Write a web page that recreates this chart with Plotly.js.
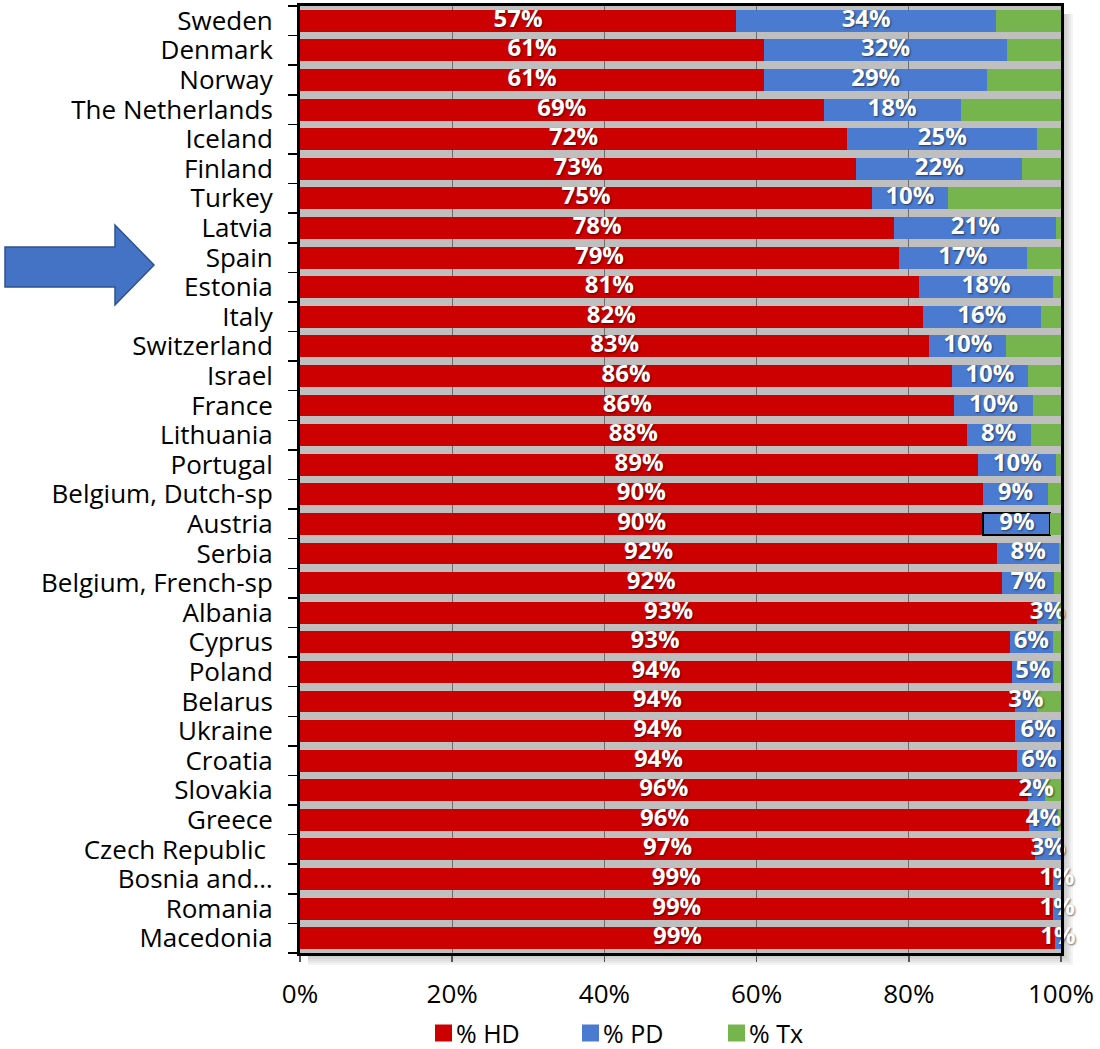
<!DOCTYPE html>
<html>
<head>
<meta charset="utf-8">
<script src="https://cdn.plot.ly/plotly-3.0.1.min.js"></script>
<style>html,body{margin:0;padding:0;background:#fff;}</style>
</head>
<body>
<div id="chart" style="width:1100px;height:1049px;"></div>
<script>
// Share of dialysis / transplant modality by country (100% stacked)
const countries = [
  'Sweden', 'Denmark', 'Norway', 'The Netherlands', 'Iceland', 'Finland', 'Turkey',
  'Latvia', 'Spain', 'Estonia', 'Italy', 'Switzerland', 'Israel', 'France',
  'Lithuania', 'Portugal', 'Belgium, Dutch-sp', 'Austria', 'Serbia',
  'Belgium, French-sp', 'Albania', 'Cyprus', 'Poland', 'Belarus', 'Ukraine',
  'Croatia', 'Slovakia', 'Greece', 'Czech Republic\u00a0', 'Bosnia and\u2026',
  'Romania', 'Macedonia'
];
const hd = [57.3, 61.0, 61.0, 68.8, 71.9, 73.1, 75.2, 78.1, 78.7, 81.3, 81.8, 82.7, 85.7, 86.0,
            87.6, 89.1, 89.7, 89.8, 91.6, 92.3, 93.0, 93.3, 93.6, 93.9, 94.0, 94.2, 95.6, 95.8,
            96.5, 98.9, 99.0, 99.2];
const pd = [34.2, 31.9, 29.3, 18.0, 25.0, 21.8, 9.9, 21.3, 16.8, 17.7, 15.6, 10.1, 9.9, 10.3,
            8.4, 10.3, 8.6, 8.8, 8.2, 6.8, 2.6, 5.6, 5.4, 3.0, 6.0, 5.8, 2.3, 3.8,
            3.4, 1.1, 1.0, 0.8];
const tx = [8.5, 7.1, 9.7, 13.2, 3.1, 5.1, 14.9, 0.6, 4.5, 1.0, 2.6, 7.2, 4.4, 3.7,
            4.0, 0.6, 1.7, 1.4, 0.2, 0.9, 0.4, 1.1, 1.0, 3.1, 0.0, 0.0, 2.1, 0.4,
            0.0, 0.0, 0.0, 0.0];
const seriesNames = ['% HD', '% PD', '% Tx'];
const seriesColors = ['#CC0000', '#4A7BD1', '#76B44E'];
const xTicks = [0, 20, 40, 60, 80, 100];
const outlinedCountry = 'Austria';

// page geometry (px)
const W = 1100, H = 1049;
const M = {l: 300, r: 39, t: 6, b: 96};
const plotW = W - M.l - M.r, plotH = H - M.t - M.b;
const px = x => (x - M.l) / plotW;
const py = y => (H - M.b - y) / plotH;

const FONT = 'Open Sans, Arial, sans-serif';

// normalised positions used to centre the value labels on each segment
const totals = hd.map((v, i) => v + pd[i] + tx[i]);
const hdN = hd.map((v, i) => v / totals[i] * 100);
const pdN = pd.map((v, i) => v / totals[i] * 100);
const pct = v => Math.round(v) + '%';

const series = [hd, pd, tx];
const traces = series.map((vals, s) => ({
  type: 'bar',
  orientation: 'h',
  name: seriesNames[s],
  y: countries,
  x: vals,
  marker: {
    color: seriesColors[s],
    line: s === 1
      ? {color: '#000', width: countries.map(c => c === outlinedCountry ? 2 : 0)}
      : {width: 0}
  },
  showlegend: false,
  hoverinfo: 'skip'
}));

const labelFont = {
  family: FONT, size: 24, color: '#ffffff', weight: 700,
  shadow: '1px 1px 2px rgba(0,0,0,0.55)'
};
traces.push({
  type: 'scatter', mode: 'text',
  y: countries, x: hdN.map(v => v / 2),
  text: hd.map(pct), textposition: 'middle center',
  textfont: labelFont, cliponaxis: false, showlegend: false, hoverinfo: 'skip'
});
traces.push({
  type: 'scatter', mode: 'text',
  y: countries, x: hdN.map((v, i) => v + pdN[i] / 2),
  text: pd.map(pct), textposition: 'middle center',
  textfont: labelFont, cliponaxis: false, showlegend: false, hoverinfo: 'skip'
});

const shapes = [];
// soft drop shadow along the right and bottom edges of the plot frame
for (let k = 1; k <= 6; k++) {
  const d = 2 * k;
  shapes.push({type: 'rect', xref: 'paper', yref: 'paper', layer: 'below',
    x0: 1, x1: px(M.l + plotW + d), y0: py(H - M.b + d), y1: py(M.t + 8),
    fillcolor: 'rgba(0,0,0,0.045)', line: {width: 0}});
  shapes.push({type: 'rect', xref: 'paper', yref: 'paper', layer: 'below',
    x0: px(M.l + 8), x1: 1, y0: py(H - M.b + d), y1: 0,
    fillcolor: 'rgba(0,0,0,0.045)', line: {width: 0}});
}
// pointer arrow next to the category labels
const arrowPts = [[5, 247], [115, 247], [115, 225], [154, 265], [115, 305], [115, 287], [5, 287]];
shapes.push({
  type: 'path', xref: 'paper', yref: 'paper', layer: 'above',
  path: 'M' + arrowPts.map(p => px(p[0]) + ',' + py(p[1])).join(' L') + ' Z',
  fillcolor: '#4472C4', line: {color: '#2F528F', width: 1.5}
});

// legend drawn as swatches + labels
const legendX = [435, 582, 728];
const legendY = 1033;
const annotations = [];
seriesNames.forEach((n, i) => {
  shapes.push({type: 'rect', xref: 'paper', yref: 'paper',
    x0: px(legendX[i]), x1: px(legendX[i] + 17), y0: py(legendY + 8.5), y1: py(legendY - 8.5),
    fillcolor: seriesColors[i], line: {width: 0}});
  annotations.push({xref: 'paper', yref: 'paper', x: px(legendX[i] + 20), y: py(legendY),
    xanchor: 'left', yanchor: 'middle', text: n, showarrow: false, borderpad: 0,
    font: {family: FONT, size: 25, color: '#000'}});
});

const layout = {
  width: W, height: H,
  margin: M,
  paper_bgcolor: '#ffffff',
  plot_bgcolor: '#BFBFBF',
  barmode: 'stack',
  barnorm: 'percent',
  bargap: 0.26,
  showlegend: false,
  font: {family: FONT, size: 26, color: '#000'},
  xaxis: {
    range: [0, 100], tickvals: xTicks, ticktext: xTicks.map(v => v + '%'),
    showgrid: true, gridcolor: '#6E6E6E', gridwidth: 1,
    zeroline: false, showline: true, mirror: true, linecolor: '#000', linewidth: 3,
    ticks: 'outside', ticklen: 6, tickwidth: 1.5, tickcolor: '#555',
    ticklabelstandoff: 10,
    tickfont: {family: FONT, size: 26, color: '#000'}, fixedrange: true
  },
  yaxis: {
    type: 'category', categoryorder: 'array', categoryarray: countries,
    range: [countries.length - 0.5, -0.5],
    tickmode: 'array', tickvals: countries, ticktext: countries,
    showline: true, mirror: true, linecolor: '#000', linewidth: 3,
    ticks: 'outside', tickson: 'boundaries', ticklen: 9, tickwidth: 1.5, tickcolor: '#000',
    ticklabelstandoff: 19, showgrid: false,
    tickfont: {family: FONT, size: 26, color: '#000'}, fixedrange: true
  },
  shapes: shapes,
  annotations: annotations
};

Plotly.newPlot('chart', traces, layout, {displayModeBar: false, staticPlot: true});
</script>
</body>
</html>
